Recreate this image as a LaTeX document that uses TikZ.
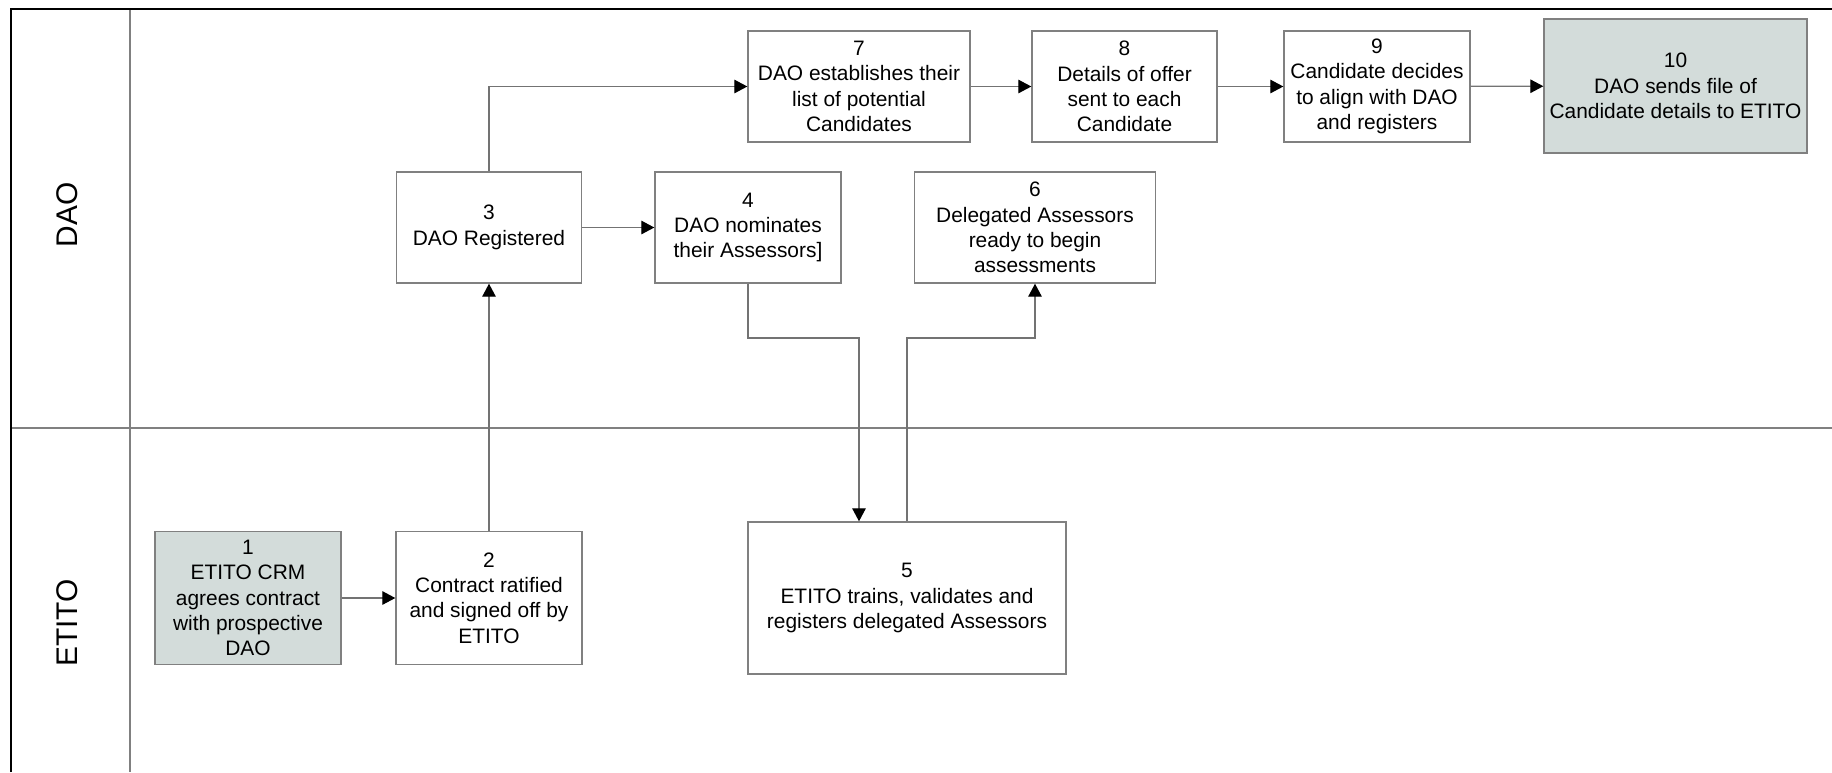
\documentclass[tikz,border=0pt]{standalone}
\usepackage{fontspec}
\setmainfont{Liberation Sans}
\usetikzlibrary{arrows.meta,calc}
\definecolor{shade}{RGB}{211,220,218}
\definecolor{boxgray}{RGB}{128,128,128}
\definecolor{linegray}{RGB}{115,115,115}
\newcommand{\boxfont}{\fontsize{11.9}{14.4}\selectfont}
\newcommand{\lanefont}{\fontsize{17}{20}\selectfont}
\tikzset{
	stepbox/.style={draw=boxgray, line width=0.8pt, fill=white, align=center, inner sep=0pt, font=\boxfont},
	flow/.style={draw=linegray, line width=0.7pt, -{Triangle[length=0.26cm,width=0.27cm,color=black]}},
	lane/.style={draw=boxgray, line width=1pt}
}

\begin{document}
\begin{tikzpicture}[x=0.02cm, y=-0.02cm]
			%%%%% START %%%%%
			\useasboundingbox (0, 0) rectangle (1832, 772);
			
			% swimlanes
			\draw[lane] (130, 9) -- (130, 772);
			\draw[lane] (11, 428) -- (1832, 428);
			\draw[line width=1.6pt] (11, 772) -- (11, 9) -- (1832, 9);
			\node[rotate=90, font=\lanefont] (dao) at (67, 215) {DAO};
			\node[rotate=90, font=\lanefont] (etito) at (67, 623) {ETITO};
			
			% ETITO lane
			\node[stepbox, fill=shade, minimum width=3.72cm, minimum height=2.66cm] (b1) at (248, 598) {1\\ETITO CRM\\agrees contract\\with prospective\\DAO};
			\node[stepbox, minimum width=3.72cm, minimum height=2.66cm] (b2) at (489, 598) {2\\Contract ratified\\and signed off by\\ETITO};
			\node[stepbox, minimum width=6.36cm, minimum height=3.04cm] (b5) at (907, 598) {5\\ETITO trains, validates and\\registers delegated Assessors};
			
			% DAO lane
			\node[stepbox, minimum width=3.7cm, minimum height=2.22cm] (b3) at (489, 227.5) {3\\DAO Registered};
			\node[stepbox, minimum width=3.72cm, minimum height=2.22cm] (b4) at (748, 227.5) {4\\DAO nominates\\their Assessors]};
			\node[stepbox, minimum width=4.82cm, minimum height=2.22cm] (b6) at (1035, 227.5) {6\\Delegated Assessors\\ready to begin\\assessments};
			\node[stepbox, minimum width=4.44cm, minimum height=2.22cm] (b7) at (859, 86.5) {7\\DAO establishes their\\list of potential\\Candidates};
			\node[stepbox, minimum width=3.7cm, minimum height=2.22cm] (b8) at (1124.5, 86.5) {8\\Details of offer\\sent to each\\Candidate};
			\node[stepbox, minimum width=3.72cm, minimum height=2.22cm] (b9) at (1377, 86.5) {9\\Candidate decides\\to align with DAO\\and registers};
			\node[stepbox, fill=shade, minimum width=5.26cm, minimum height=2.68cm] (b10) at (1675.5, 86) {10\\DAO sends file of\\Candidate details to ETITO};
			
			% connectors
			\coordinate (lvl) at (0, 338);
			\coordinate (in5) at ($(b5.north)+(-48, 0)$);
			\draw[flow] (b1) -- (b2);
			\draw[flow] (b2) -- (b3);
			\draw[flow] (b3) -- (b4);
			\draw[flow] (b3.north) |- (b7.west);
			\draw[flow] (b7) -- (b8);
			\draw[flow] (b8) -- (b9);
			\draw[flow] (b9) -- (b10);
			\draw[flow] (b4.south) -- (b4.south |- lvl) -| (in5);
			\draw[flow] (b5.north) -- (b5.north |- lvl) -| (b6.south);
			%%%%% END %%%%%
		\end{tikzpicture}
\end{document}
